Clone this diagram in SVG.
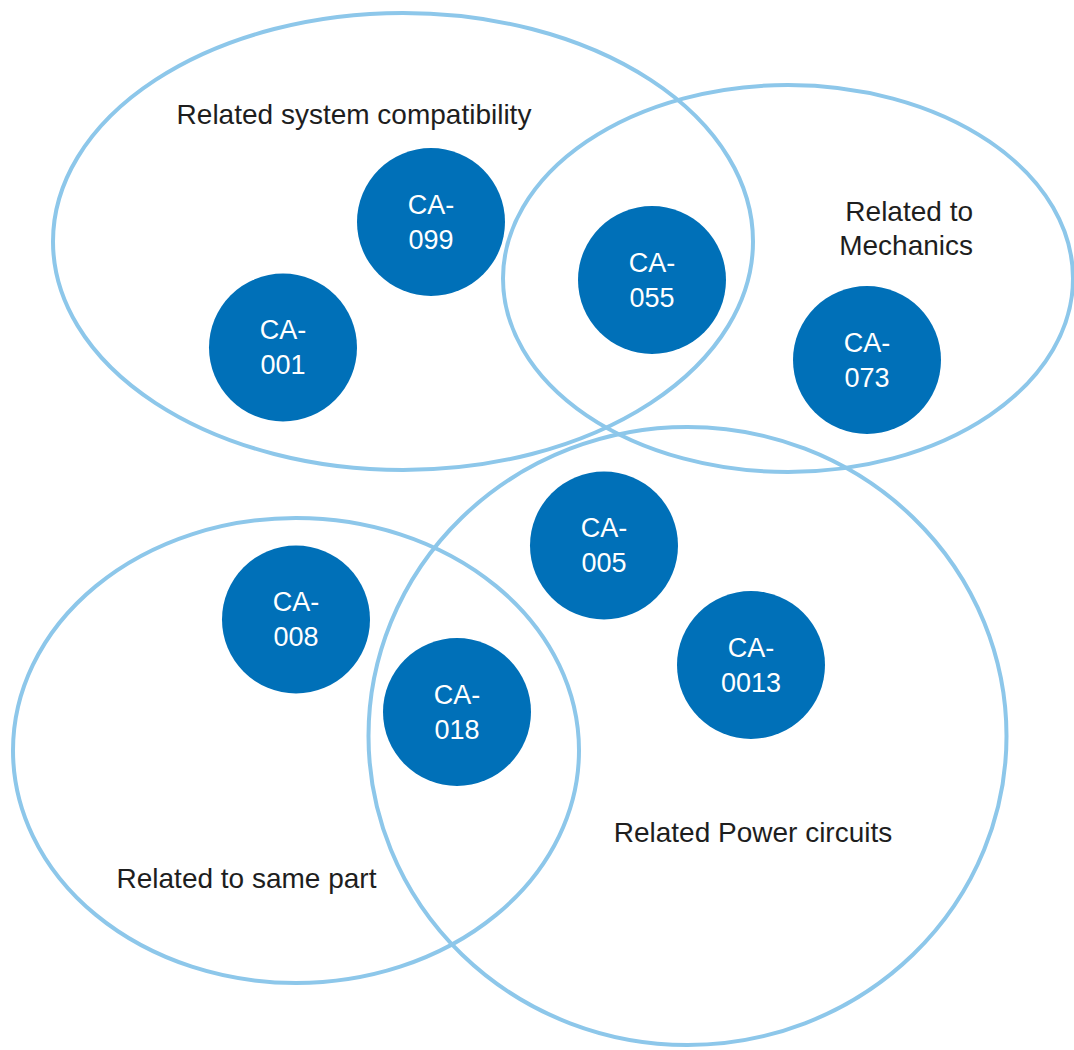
<svg xmlns="http://www.w3.org/2000/svg" width="1074" height="1050" viewBox="0 0 1074 1050">
  <style>
    .set { fill: none; stroke: #8DC7EA; stroke-width: 4; }
    .item circle { fill: #0070B8; }
    .item text { fill: #FFFFFF; font-family: "Liberation Sans", Arial, sans-serif; font-size: 27px; text-anchor: middle; }
    .label { fill: #1E1E1E; font-family: "Liberation Sans", Arial, sans-serif; font-size: 28px; }
  </style>
  <rect width="1074" height="1050" fill="#FFFFFF"/>

  <!-- category sets -->
  <g id="set-system-compatibility">
    <ellipse class="set" cx="403" cy="241.5" rx="350" ry="228.5"/>
    <text class="label" x="354" y="124" text-anchor="middle">Related system compatibility</text>
  </g>
  <g id="set-mechanics">
    <ellipse class="set" cx="788" cy="278.5" rx="285" ry="193.5"/>
    <text class="label" x="973" y="221" text-anchor="end">Related to</text>
    <text class="label" x="973" y="255" text-anchor="end">Mechanics</text>
  </g>
  <g id="set-power-circuits">
    <ellipse class="set" cx="687.5" cy="736" rx="319" ry="309"/>
    <text class="label" x="753" y="842" text-anchor="middle">Related Power circuits</text>
  </g>
  <g id="set-same-part">
    <ellipse class="set" cx="296" cy="750.5" rx="283" ry="232.5"/>
    <text class="label" x="246.5" y="888" text-anchor="middle">Related to same part</text>
  </g>

  <!-- no connectors in this chart -->
  <g id="connectors"/>

  <!-- items -->
  <g id="ca-099" class="item">
    <circle cx="431" cy="222" r="74"/>
    <text x="431" y="213.5">CA-</text>
    <text x="431" y="248.5">099</text>
  </g>
  <g id="ca-001" class="item">
    <circle cx="283" cy="347.5" r="74"/>
    <text x="283" y="339">CA-</text>
    <text x="283" y="374">001</text>
  </g>
  <g id="ca-055" class="item">
    <circle cx="652" cy="280" r="74"/>
    <text x="652" y="271.5">CA-</text>
    <text x="652" y="306.5">055</text>
  </g>
  <g id="ca-073" class="item">
    <circle cx="867" cy="360" r="74"/>
    <text x="867" y="351.5">CA-</text>
    <text x="867" y="386.5">073</text>
  </g>
  <g id="ca-005" class="item">
    <circle cx="604" cy="545.5" r="74"/>
    <text x="604" y="537">CA-</text>
    <text x="604" y="572">005</text>
  </g>
  <g id="ca-0013" class="item">
    <circle cx="751" cy="665" r="74"/>
    <text x="751" y="656.5">CA-</text>
    <text x="751" y="691.5">0013</text>
  </g>
  <g id="ca-008" class="item">
    <circle cx="296" cy="619.5" r="74"/>
    <text x="296" y="611">CA-</text>
    <text x="296" y="646">008</text>
  </g>
  <g id="ca-018" class="item">
    <circle cx="457" cy="712" r="74"/>
    <text x="457" y="703.5">CA-</text>
    <text x="457" y="738.5">018</text>
  </g>
</svg>
